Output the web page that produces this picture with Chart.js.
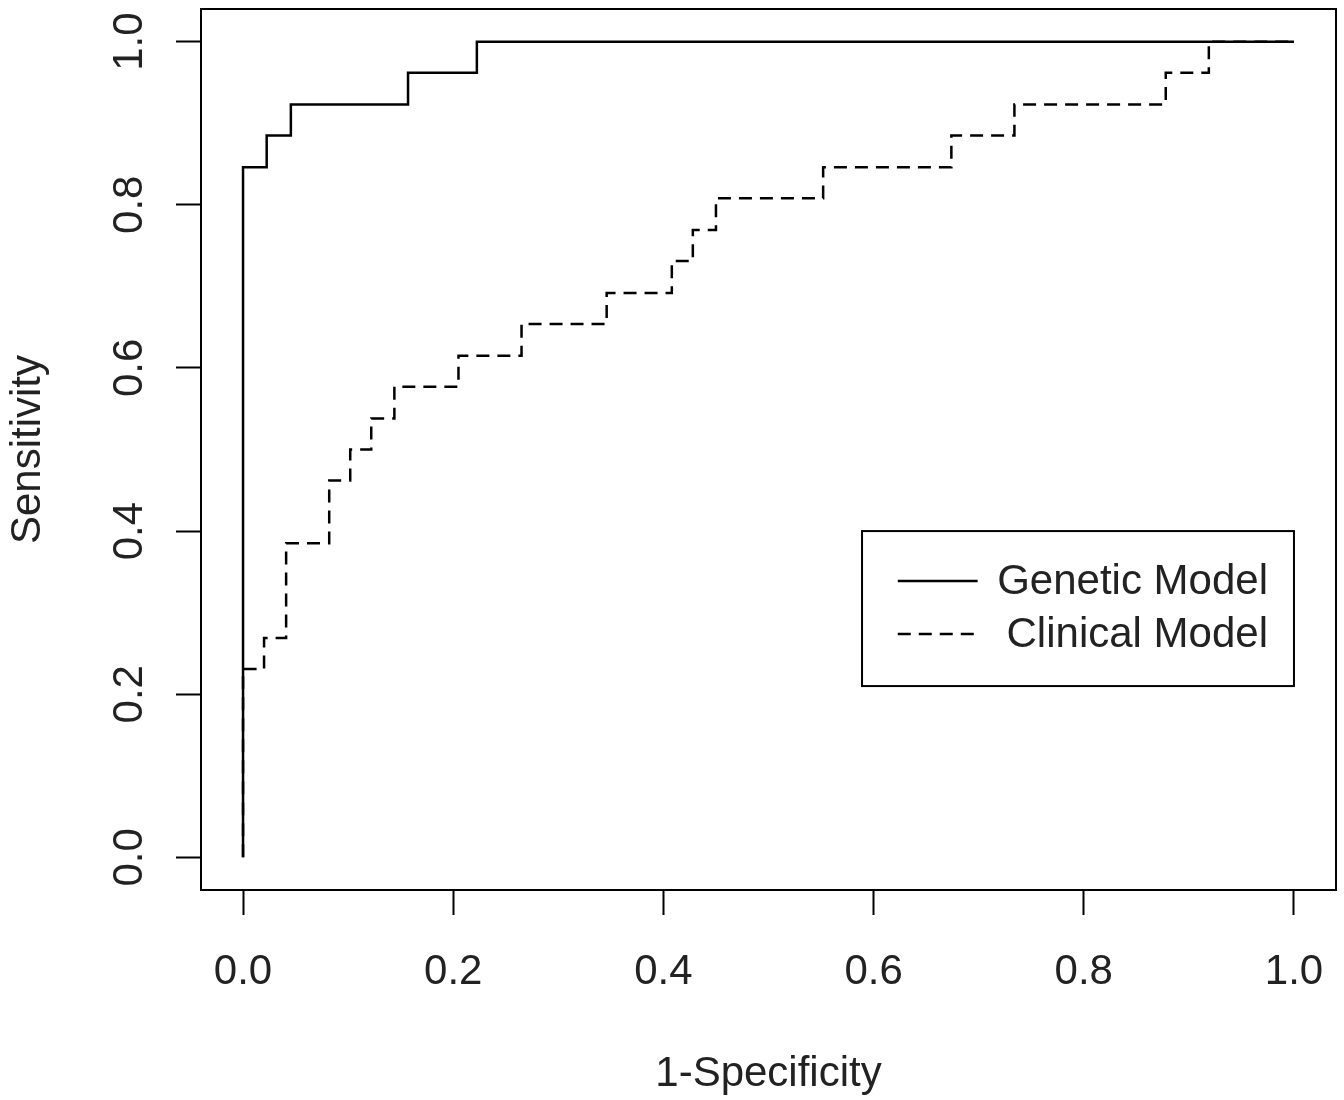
<!DOCTYPE html>
<html>
<head>
<meta charset="utf-8">
<script src="https://cdn.jsdelivr.net/npm/chart.js@4.4.0/dist/chart.umd.min.js"></script>
<style>
  html, body { margin: 0; padding: 0; background: #fff; }
  #wrap { width: 1344px; height: 1100px; }
</style>
</head>
<body>
<div id="wrap"><canvas id="roc"></canvas></div>
<script>
// tick labels on both axes
const tickValues = [0, 0.2, 0.4, 0.6, 0.8, 1.0];

// Genetic model ROC (1-specificity, sensitivity) at each step
const geneticFpr = [0, 0, 0.0225, 0.0455, 0.157, 0.2225, 1];
const geneticTpr = [0, 0.846, 0.885, 0.923, 0.962, 1, 1];

// Clinical model ROC
const clinicalFpr = [0, 0, 0.020, 0.041, 0.082, 0.102, 0.122, 0.144, 0.205, 0.265, 0.346, 0.408, 0.428, 0.450, 0.552, 0.674, 0.734, 0.878, 0.919, 1];
const clinicalTpr = [0, 0.231, 0.269, 0.385, 0.462, 0.5, 0.538, 0.577, 0.615, 0.654, 0.692, 0.731, 0.769, 0.808, 0.846, 0.885, 0.923, 0.962, 1, 1];

const FONT = "'Liberation Sans', Arial, sans-serif";
const INK = '#222';
const DASH = [13, 8];

const toPoints = (xs, ys) => xs.map((x, i) => ({ x: x, y: ys[i] }));

// frame round the plot area + vertical y tick labels (R style)
const framePlugin = {
    id: 'frame',
    afterDraw(chart) {
        const { ctx, chartArea: a, scales } = chart;
        ctx.save();
        ctx.strokeStyle = '#000';
        ctx.lineWidth = 2;
        ctx.strokeRect(a.left, a.top, a.right - a.left, a.bottom - a.top);

        // y tick labels, rotated
        ctx.fillStyle = INK;
        ctx.font = '42px ' + FONT;
        ctx.textAlign = 'center';
        ctx.textBaseline = 'middle';
        scales.y.ticks.forEach(t => {
            const py = scales.y.getPixelForValue(t.value);
            ctx.save();
            ctx.translate(a.left - 71, py);
            ctx.rotate(-Math.PI / 2);
            ctx.fillText(t.value.toFixed(1), 0, 0);
            ctx.restore();
        });
        ctx.restore();
    }
};

// legend box inside the plot, like R's legend()
const legendPlugin = {
    id: 'rocLegend',
    afterDraw(chart) {
        const { ctx, scales } = chart;
        const x = scales.x, y = scales.y;
        const left = x.getPixelForValue(0.589), right = x.getPixelForValue(1.0);
        const top = y.getPixelForValue(0.4), bottom = y.getPixelForValue(0.21);
        ctx.save();
        ctx.strokeStyle = '#000';
        ctx.lineWidth = 2;
        ctx.strokeRect(left, top, right - left, bottom - top);
        ctx.font = '42px ' + FONT;
        ctx.fillStyle = INK;
        ctx.textAlign = 'right';
        ctx.textBaseline = 'middle';
        const rows = [top + 50, top + 103];
        chart.data.datasets.forEach((ds, i) => {
            const ly = rows[i];
            ctx.beginPath();
            ctx.lineWidth = 2.5;
            ctx.setLineDash(ds.borderDash || []);
            ctx.moveTo(x.getPixelForValue(0.623), ly);
            ctx.lineTo(x.getPixelForValue(0.699), ly);
            ctx.stroke();
            ctx.setLineDash([]);
            ctx.fillText(ds.label, right - 26, ly + 1);
        });
        ctx.restore();
    }
};

const fixedTicks = scale => { scale.ticks = tickValues.map(v => ({ value: v })); };

new Chart(document.getElementById('roc'), {
    type: 'line',
    data: {
        datasets: [
            {
                label: 'Genetic Model',
                data: toPoints(geneticFpr, geneticTpr),
                borderColor: '#000',
                borderWidth: 2.5,
                stepped: 'before',
                pointRadius: 0,
                fill: false
            },
            {
                label: 'Clinical Model',
                data: toPoints(clinicalFpr, clinicalTpr),
                borderColor: '#000',
                borderWidth: 2.5,
                borderDash: DASH,
                stepped: 'before',
                pointRadius: 0,
                fill: false
            }
        ]
    },
    options: {
        responsive: true,
        maintainAspectRatio: false,
        animation: false,
        layout: { padding: { top: 9, right: 8, left: 0, bottom: 0 } },
        plugins: {
            legend: { display: false },
            tooltip: { enabled: false }
        },
        scales: {
            x: {
                type: 'linear',
                min: -0.04,
                max: 1.04,
                afterBuildTicks: fixedTicks,
                afterFit: s => { s.height = 210; s.paddingLeft = 0; s.paddingRight = 0; },
                border: { display: false },
                grid: { drawOnChartArea: false, tickLength: 25, tickWidth: 2, color: '#000' },
                ticks: {
                    color: INK,
                    font: { family: FONT, size: 42 },
                    padding: 32,
                    maxRotation: 0,
                    callback: v => Number(v).toFixed(1)
                },
                title: {
                    display: true,
                    text: '1-Specificity',
                    color: INK,
                    font: { family: FONT, size: 42 },
                    padding: 0
                }
            },
            y: {
                type: 'linear',
                min: -0.04,
                max: 1.04,
                afterBuildTicks: fixedTicks,
                afterFit: s => { s.width = 201; s.paddingTop = 0; s.paddingBottom = 0; },
                border: { display: false },
                grid: { drawOnChartArea: false, tickLength: 25, tickWidth: 2, color: '#000' },
                ticks: { display: false },
                title: {
                    display: true,
                    text: 'Sensitivity',
                    color: INK,
                    font: { family: FONT, size: 42 },
                    padding: 3
                }
            }
        }
    },
    plugins: [framePlugin, legendPlugin]
});
</script>
</body>
</html>
